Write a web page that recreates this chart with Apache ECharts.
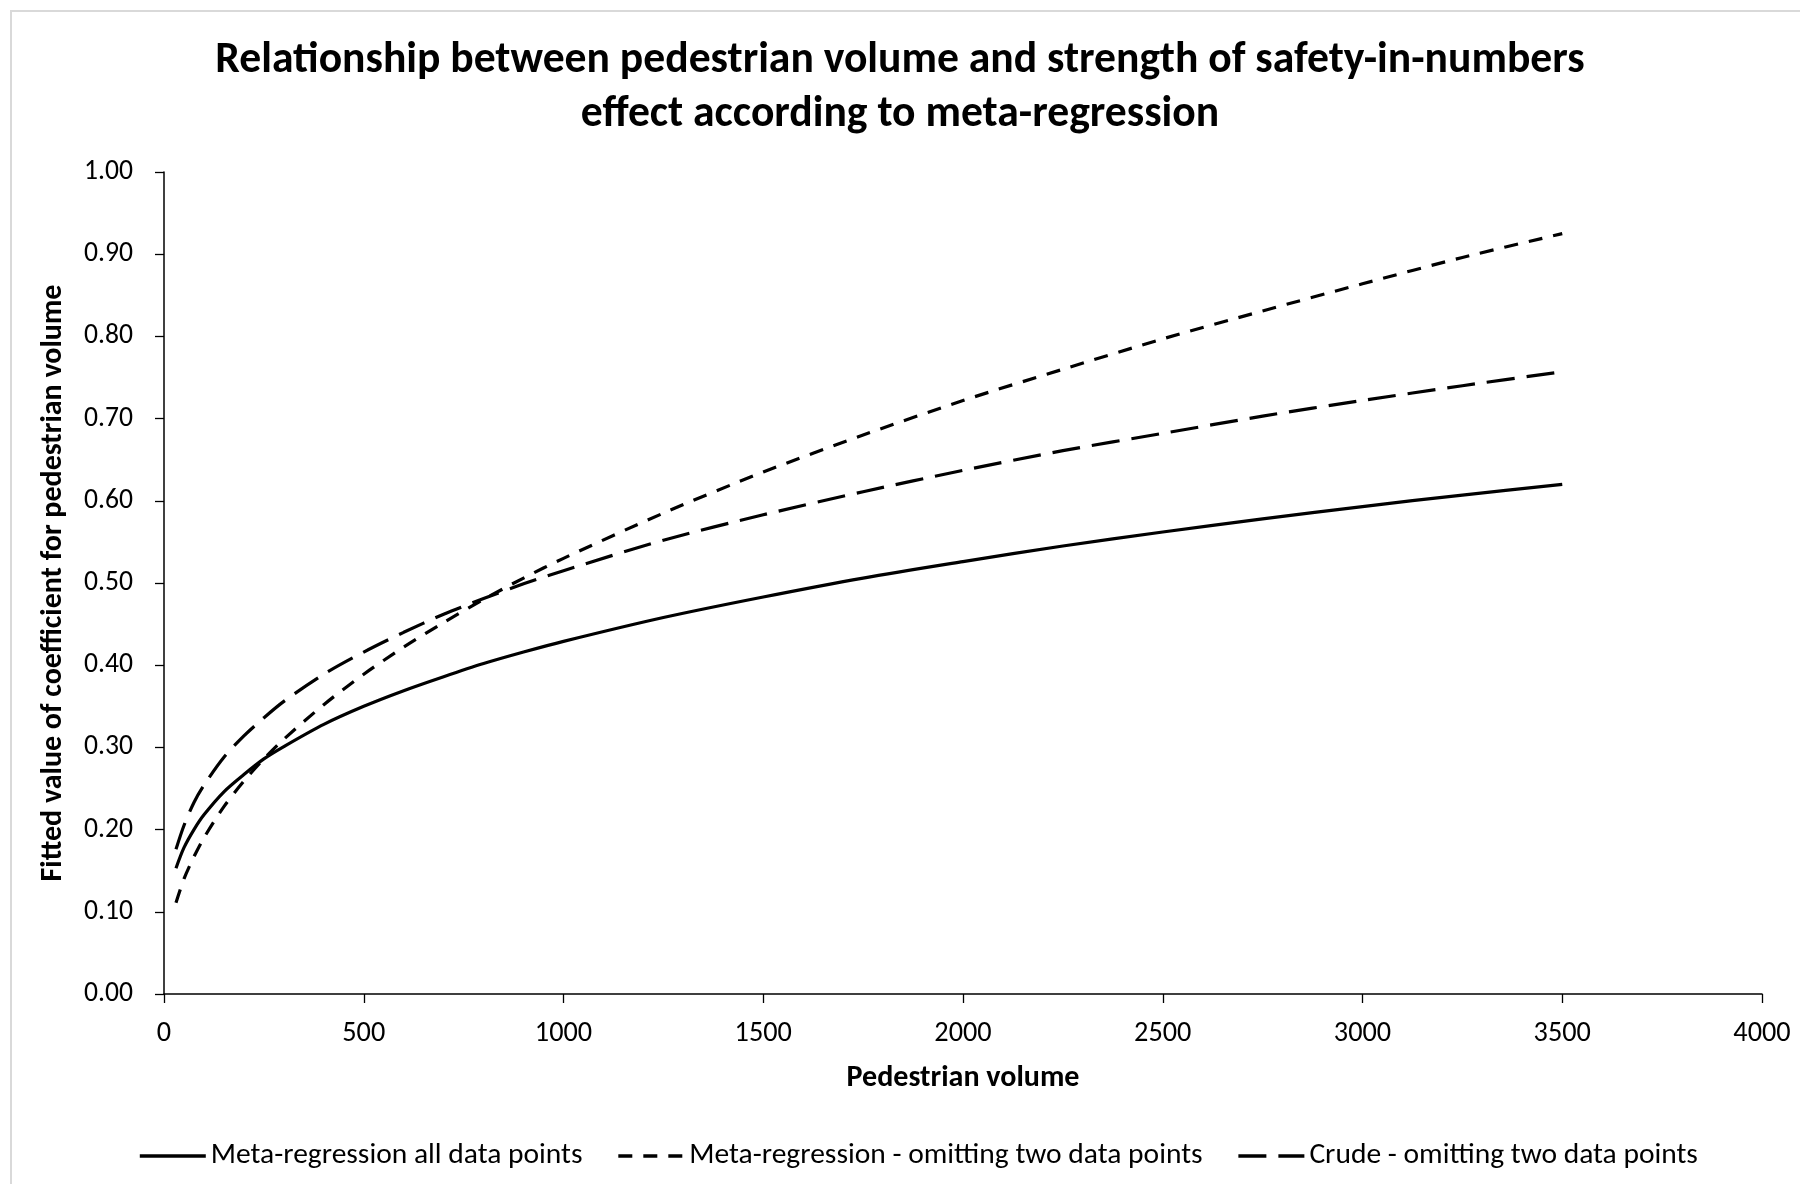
<!DOCTYPE html>
<html>
<head>
<meta charset="utf-8">
<script src="https://cdn.jsdelivr.net/npm/echarts@6/dist/echarts.min.js"></script>
<style>
  html, body { margin: 0; padding: 0; background: #fff; }
  #chart { width: 1800px; height: 1184px; }
</style>
</head>
<body>
<div id="chart"></div>
<script>
// ---- data ----
const titleLines = ['Relationship between pedestrian volume and strength of safety-in-numbers', 'effect according to meta-regression'];
const xAxisName = 'Pedestrian volume';
const yAxisName = 'Fitted value of coefficient for pedestrian volume';
const seriesNames = ['Meta-regression all data points', 'Meta-regression - omitting two data points', 'Crude - omitting two data points'];
const pedestrianVolume = [30, 50, 75, 100, 150, 200, 250, 300, 400, 500, 600, 700, 800, 900, 1000, 1250, 1500, 1750, 2000, 2250, 2500, 2750, 3000, 3250, 3500];
const metaAll = [0.153, 0.178, 0.200, 0.218, 0.246, 0.267, 0.286, 0.301, 0.328, 0.350, 0.369, 0.386, 0.402, 0.416, 0.429, 0.458, 0.483, 0.506, 0.526, 0.545, 0.562, 0.578, 0.593, 0.607, 0.620];
const metaOmit = [0.111, 0.140, 0.167, 0.190, 0.228, 0.259, 0.286, 0.310, 0.352, 0.389, 0.422, 0.452, 0.480, 0.506, 0.530, 0.585, 0.635, 0.680, 0.722, 0.760, 0.797, 0.831, 0.864, 0.896, 0.925];
const crudeOmit = [0.176, 0.205, 0.233, 0.254, 0.288, 0.314, 0.336, 0.356, 0.389, 0.416, 0.440, 0.462, 0.481, 0.499, 0.515, 0.552, 0.583, 0.611, 0.637, 0.661, 0.682, 0.703, 0.722, 0.740, 0.757];
const xTicks = { min: 0, max: 4000, interval: 500 };
const yTicks = { min: 0, max: 1, interval: 0.1 };

// ---- font sizing: fit measured text widths to the reference ----
const FONT = 'Carlito, Lato, "Open Sans", sans-serif';
const mctx = document.createElement('canvas').getContext('2d');
function fit(text, weight, target) {
  mctx.font = weight + ' 100px ' + FONT;
  return 100 * target / mctx.measureText(text).width;
}
const titleSize = fit(titleLines[0], 'bold', 1370);
const yLabelSize = fit('1.00', 'normal', 49);
const xLabelSize = fit('500', 'normal', 43);
const xNameSize = fit(xAxisName, 'bold', 233);
const yNameSize = fit(yAxisName, 'bold', 597);
const legendSize = fit(seriesNames[0], 'normal', 372);

function pairs(ys) { return pedestrianVolume.map((x, i) => [x, ys[i]]); }

const chart = echarts.init(document.getElementById('chart'), null, { renderer: 'canvas' });
const axisLineStyle = { color: '#000', width: 1.5 };
const titleStyle = { fontFamily: FONT, fontWeight: 'bold', fontSize: titleSize, color: '#000' };
chart.setOption({
  backgroundColor: '#fff',
  animation: false,
  graphic: [{
    type: 'rect', silent: true,
    shape: { x: 11, y: 11, width: 1800, height: 1200 },
    style: { fill: 'none', stroke: '#d9d9d9', lineWidth: 2 }
  }],
  title: [
    { text: titleLines[0], left: 'center', top: 39, padding: 0, textStyle: titleStyle },
    { text: titleLines[1], left: 'center', top: 93, padding: 0, textStyle: titleStyle }
  ],
  grid: { left: 164, right: 38, top: 172, bottom: 190, containLabel: false },
  xAxis: {
    type: 'value', min: xTicks.min, max: xTicks.max, interval: xTicks.interval,
    name: xAxisName, nameLocation: 'middle', nameGap: 69,
    nameTextStyle: { fontFamily: FONT, fontWeight: 'bold', fontSize: xNameSize, color: '#000' },
    axisLine: { show: true, lineStyle: axisLineStyle },
    axisTick: { show: true, inside: false, length: 9, lineStyle: { color: '#000', width: 1.3 } },
    axisLabel: { margin: 26, fontFamily: FONT, fontSize: xLabelSize, color: '#000', formatter: v => String(v) },
    splitLine: { show: false }
  },
  yAxis: {
    type: 'value', min: yTicks.min, max: yTicks.max, interval: yTicks.interval,
    name: yAxisName, nameLocation: 'middle', nameGap: 96, nameRotate: 90,
    nameTextStyle: { fontFamily: FONT, fontWeight: 'bold', fontSize: yNameSize, color: '#000' },
    axisLine: { show: true, lineStyle: axisLineStyle },
    axisTick: { show: true, inside: false, length: 9, lineStyle: { color: '#000', width: 1.3 } },
    axisLabel: { margin: 31, fontFamily: FONT, fontSize: yLabelSize, color: '#000', formatter: v => v.toFixed(2) },
    splitLine: { show: false }
  },
  legend: {
    left: 133, top: 1136,
    itemWidth: 66, itemHeight: 26, itemGap: 34,
    itemStyle: { color: 'rgba(0,0,0,0)', borderWidth: 0, opacity: 0 },
    lineStyle: { width: 3.6 },
    textStyle: { fontFamily: FONT, fontSize: legendSize, color: '#000' },
    data: seriesNames
  },
  series: [
    { name: seriesNames[0], type: 'line', data: pairs(metaAll), symbol: 'none', smooth: 0.3,
      lineStyle: { color: '#000', width: 3.2, type: 'solid' }, itemStyle: { color: '#000' } },
    { name: seriesNames[1], type: 'line', data: pairs(metaOmit), symbol: 'none', smooth: 0.3,
      lineStyle: { color: '#000', width: 3.2, type: [14, 11] }, itemStyle: { color: '#000' } },
    { name: seriesNames[2], type: 'line', data: pairs(crudeOmit), symbol: 'none', smooth: 0.3,
      lineStyle: { color: '#000', width: 3.2, type: [28, 12] }, itemStyle: { color: '#000' } }
  ]
});
</script>
</body>
</html>
